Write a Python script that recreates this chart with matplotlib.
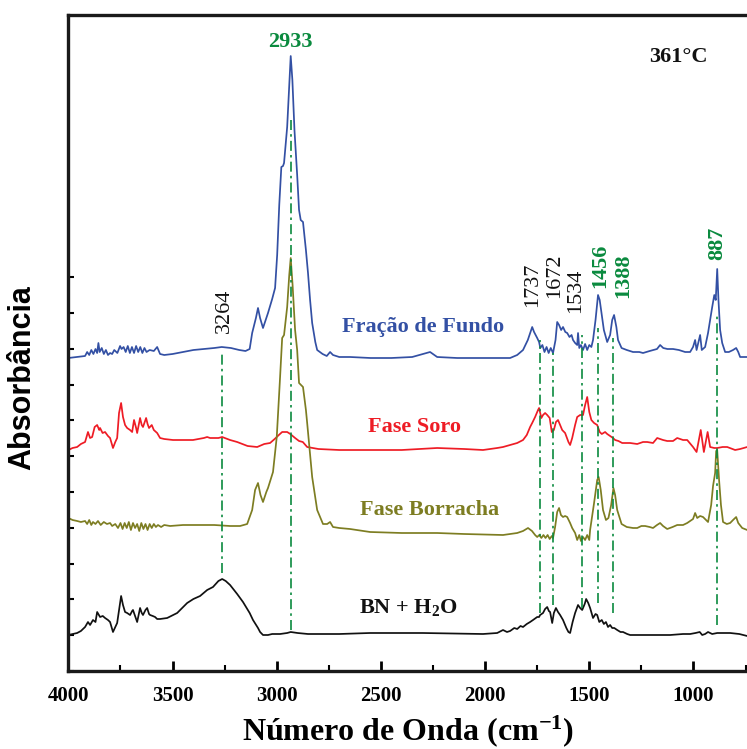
import matplotlib
matplotlib.use("Agg")
import matplotlib.pyplot as plt
import numpy as np
from matplotlib.ticker import MultipleLocator, FixedLocator, NullFormatter

plt.rcParams["mathtext.fontset"] = "custom"
plt.rcParams["mathtext.rm"] = "Liberation Serif:bold"
plt.rcParams["mathtext.bf"] = "Liberation Serif:bold"
plt.rcParams["mathtext.default"] = "rm"

SERIF = "Liberation Serif"
SANS = "Liberation Sans"

# FTIR spectra at 361 °C: (wavenumber in cm-1, absorbance in arbitrary units, stacked)
fracao_fundo = [
    (4000, 31.3), (3958, 31.4), (3920, 31.5), (3910, 31.9), (3900, 31.6), (3890, 32.1),
    (3880, 31.7), (3870, 32.2), (3862, 31.8), (3856, 32.8), (3850, 31.9), (3840, 32.3),
    (3830, 31.7), (3820, 32.1), (3810, 31.6), (3800, 31.8), (3790, 31.7), (3780, 32.1),
    (3765, 31.8), (3752, 32.5), (3745, 32.2), (3735, 32.4), (3725, 31.9), (3715, 32.5),
    (3705, 31.8), (3695, 32.4), (3685, 31.8), (3675, 32.5), (3665, 31.9), (3655, 32.4),
    (3645, 31.8), (3635, 32.3), (3625, 31.9), (3610, 32.1), (3590, 32.0), (3574, 32.4),
    (3560, 31.7), (3540, 31.6), (3500, 31.7), (3450, 31.9), (3400, 32.1), (3350, 32.2),
    (3300, 32.3), (3264, 32.4), (3220, 32.3), (3180, 32.1), (3150, 32.0), (3130, 32.2),
    (3118, 33.8), (3100, 35.3), (3090, 36.3), (3080, 35.3), (3066, 34.3), (3042, 35.8),
    (3022, 37.2), (3008, 38.3), (2998, 41.6), (2988, 46.6), (2978, 50.4), (2970, 50.5),
    (2965, 50.8), (2950, 54.4), (2940, 58.6), (2933, 61.5), (2925, 59.1), (2915, 54.1),
    (2902, 49.6), (2893, 46.1), (2885, 45.1), (2874, 44.9), (2860, 42.1), (2850, 39.8),
    (2840, 37.1), (2830, 34.8), (2815, 32.9), (2806, 32.1), (2780, 31.7), (2760, 31.5),
    (2744, 31.9), (2730, 31.6), (2700, 31.4), (2648, 31.4), (2550, 31.3), (2450, 31.3),
    (2350, 31.4), (2264, 31.9), (2230, 31.4), (2134, 31.3), (2000, 31.3), (1880, 31.3),
    (1846, 31.6), (1818, 32.1), (1795, 33.1), (1774, 34.4), (1765, 33.9), (1750, 33.3),
    (1741, 32.9), (1735, 32.3), (1725, 32.6), (1715, 31.9), (1705, 32.4), (1695, 31.8),
    (1685, 32.3), (1674, 31.8), (1662, 33.1), (1654, 34.9), (1645, 34.6), (1635, 34.1),
    (1626, 34.4), (1615, 33.9), (1606, 33.8), (1595, 33.4), (1585, 33.6), (1578, 33.1),
    (1568, 32.8), (1558, 32.6), (1554, 33.8), (1548, 32.3), (1540, 32.6), (1530, 32.1),
    (1520, 32.7), (1510, 32.1), (1500, 32.6), (1490, 32.4), (1482, 33.1), (1470, 35.1),
    (1458, 37.6), (1450, 37.1), (1440, 35.6), (1430, 34.1), (1414, 32.9), (1400, 33.6),
    (1390, 35.1), (1381, 35.6), (1370, 34.4), (1362, 33.1), (1345, 32.3), (1320, 32.1),
    (1290, 31.9), (1260, 31.9), (1242, 31.8), (1210, 32.0), (1175, 32.2), (1160, 32.6),
    (1145, 32.3), (1125, 32.2), (1098, 32.2), (1070, 32.1), (1040, 31.9), (1016, 31.9),
    (1002, 32.4), (992, 33.1), (985, 32.1), (968, 33.6), (960, 32.1), (944, 32.4),
    (930, 33.8), (910, 36.4), (900, 37.6), (893, 37.1), (886, 40.2), (880, 37.1),
    (872, 34.1), (862, 32.8), (848, 31.9), (830, 31.9), (810, 32.1), (795, 32.3),
    (785, 31.9), (776, 31.4), (742, 31.4),
]

fase_soro = [
    (4000, 22.1), (3980, 22.3), (3958, 22.4), (3940, 22.7), (3920, 22.9), (3906, 23.9),
    (3896, 23.3), (3886, 23.4), (3874, 24.4), (3862, 24.6), (3852, 24.1), (3848, 24.3),
    (3836, 23.8), (3824, 23.9), (3810, 23.5), (3800, 23.3), (3786, 22.3), (3775, 22.9),
    (3766, 23.3), (3757, 25.8), (3747, 26.8), (3738, 25.4), (3728, 24.6), (3718, 24.3),
    (3704, 24.1), (3694, 23.9), (3685, 25.1), (3675, 24.3), (3670, 23.8), (3656, 25.3),
    (3648, 24.6), (3642, 24.4), (3627, 25.3), (3620, 24.7), (3613, 24.3), (3600, 24.6),
    (3590, 24.1), (3574, 23.8), (3560, 23.3), (3540, 23.2), (3498, 23.1), (3450, 23.1),
    (3402, 23.1), (3350, 23.3), (3334, 23.4), (3320, 23.3), (3280, 23.3), (3262, 23.4),
    (3224, 23.1), (3190, 22.9), (3140, 22.5), (3094, 22.4), (3060, 22.7), (3032, 22.8),
    (3010, 23.2), (2990, 23.6), (2974, 23.9), (2950, 23.9), (2935, 23.7), (2912, 23.3),
    (2893, 23.0), (2875, 22.9), (2854, 22.4), (2800, 22.2), (2700, 22.1), (2552, 22.1),
    (2400, 22.1), (2230, 22.3), (2100, 22.2), (2010, 22.1), (1942, 22.3), (1914, 22.4),
    (1880, 22.6), (1846, 22.8), (1818, 23.1), (1800, 23.6), (1784, 24.4), (1774, 24.8),
    (1760, 25.4), (1746, 26.1), (1741, 26.3), (1730, 25.3), (1722, 25.6), (1712, 25.8),
    (1702, 25.6), (1690, 25.3), (1680, 23.9), (1670, 24.1), (1660, 24.9), (1650, 25.1),
    (1640, 24.6), (1630, 24.1), (1616, 23.8), (1600, 22.9), (1592, 22.6), (1582, 23.3),
    (1568, 24.6), (1558, 25.4), (1544, 25.6), (1530, 25.6), (1520, 26.6), (1510, 27.4),
    (1500, 25.9), (1490, 25.1), (1477, 24.8), (1462, 24.6), (1450, 23.9), (1440, 23.7),
    (1424, 23.9), (1414, 23.7), (1400, 23.5), (1386, 23.3), (1376, 23.1), (1360, 23.0),
    (1342, 22.8), (1318, 22.8), (1304, 22.8), (1270, 22.7), (1242, 22.9), (1222, 22.9),
    (1194, 22.8), (1174, 23.3), (1160, 23.2), (1146, 23.1), (1126, 23.0), (1098, 23.0),
    (1078, 23.3), (1050, 23.1), (1030, 23.1), (1002, 22.4), (985, 21.9), (965, 24.1),
    (950, 21.9), (932, 23.9), (920, 22.4), (900, 22.3), (886, 22.3), (860, 22.4),
    (838, 22.4), (800, 22.1), (776, 22.2), (742, 22.4),
]

fase_borracha = [
    (4000, 15.3), (3980, 15.1), (3958, 15.0), (3940, 14.9), (3920, 15.0), (3910, 14.7),
    (3900, 15.1), (3890, 14.6), (3882, 14.9), (3870, 14.7), (3858, 15.0), (3845, 14.6),
    (3830, 14.9), (3815, 14.7), (3800, 14.8), (3790, 14.5), (3775, 14.7), (3762, 14.3),
    (3750, 14.8), (3740, 14.2), (3730, 14.8), (3720, 14.3), (3710, 14.9), (3700, 14.1),
    (3690, 14.8), (3680, 14.3), (3670, 14.7), (3660, 14.0), (3650, 14.8), (3640, 14.2),
    (3630, 14.7), (3620, 14.1), (3610, 14.7), (3600, 14.3), (3590, 14.7), (3580, 14.4),
    (3570, 14.6), (3555, 14.4), (3540, 14.6), (3512, 14.5), (3450, 14.6), (3368, 14.6),
    (3300, 14.6), (3224, 14.5), (3176, 14.5), (3142, 14.7), (3118, 16.1), (3104, 18.1),
    (3090, 18.8), (3078, 17.6), (3066, 16.9), (3050, 17.9), (3042, 18.3), (3018, 19.9),
    (3000, 23.4), (2990, 27.1), (2984, 29.4), (2974, 33.3), (2965, 33.6), (2950, 36.4),
    (2940, 39.6), (2933, 41.3), (2924, 38.6), (2912, 34.1), (2902, 32.1), (2893, 28.8),
    (2874, 28.4), (2860, 26.1), (2854, 24.8), (2830, 19.4), (2806, 16.1), (2778, 14.7),
    (2758, 14.7), (2744, 14.9), (2730, 14.4), (2700, 14.3), (2648, 14.2), (2552, 13.9),
    (2400, 13.8), (2230, 13.8), (2100, 13.7), (1914, 13.6), (1846, 13.8), (1818, 14.0),
    (1794, 14.3), (1775, 14.0), (1760, 13.6), (1750, 13.4), (1740, 13.6), (1730, 13.3),
    (1720, 13.6), (1710, 13.3), (1700, 13.6), (1690, 13.2), (1680, 13.5), (1674, 13.3),
    (1664, 14.4), (1654, 15.9), (1645, 16.3), (1636, 15.6), (1626, 15.4), (1616, 15.5),
    (1606, 15.4), (1592, 14.8), (1582, 14.3), (1568, 13.8), (1558, 13.1), (1548, 13.6),
    (1540, 13.0), (1530, 13.4), (1520, 13.1), (1510, 13.6), (1500, 13.1), (1496, 14.1),
    (1477, 16.8), (1462, 19.1), (1455, 19.4), (1445, 18.1), (1434, 16.1), (1420, 15.1),
    (1408, 15.3), (1395, 16.6), (1384, 18.3), (1376, 17.6), (1366, 16.1), (1345, 14.7),
    (1320, 14.4), (1290, 14.3), (1270, 14.3), (1250, 14.5), (1232, 14.5), (1210, 14.4),
    (1194, 14.3), (1175, 14.6), (1160, 14.8), (1146, 14.5), (1126, 14.2), (1100, 14.4),
    (1078, 14.6), (1050, 14.6), (1030, 14.8), (1002, 15.2), (992, 15.8), (982, 15.3),
    (968, 15.5), (954, 15.4), (930, 14.9), (915, 16.6), (906, 18.5), (896, 19.8),
    (891, 22.0), (886, 22.1), (877, 19.1), (868, 16.6), (858, 14.9), (840, 14.7),
    (824, 14.8), (810, 15.1), (795, 15.4), (785, 14.8), (766, 14.3), (742, 14.1),
]

bn_h2o = [
    (4000, 3.6), (3980, 3.7), (3958, 3.8), (3940, 4.0), (3920, 4.4), (3906, 4.9),
    (3896, 4.6), (3882, 5.1), (3870, 4.9), (3862, 5.9), (3848, 5.4), (3835, 5.5),
    (3824, 5.3), (3810, 5.1), (3800, 4.9), (3786, 3.9), (3775, 4.4), (3766, 4.8),
    (3757, 6.1), (3747, 7.5), (3738, 6.6), (3728, 5.9), (3718, 5.8), (3704, 5.6),
    (3694, 6.0), (3690, 6.1), (3680, 5.5), (3670, 4.9), (3660, 5.9), (3656, 6.3),
    (3648, 5.8), (3642, 5.6), (3630, 6.1), (3622, 6.3), (3613, 5.7), (3608, 5.6),
    (3595, 5.5), (3584, 5.4), (3574, 5.2), (3560, 5.2), (3526, 5.3), (3478, 5.8),
    (3430, 6.8), (3400, 7.2), (3368, 7.5), (3334, 8.1), (3306, 8.4), (3280, 9.0),
    (3262, 9.2), (3245, 9.0), (3224, 8.6), (3190, 7.7), (3162, 6.9), (3130, 5.8),
    (3114, 5.1), (3090, 4.3), (3080, 3.9), (3066, 3.6), (3042, 3.6), (3022, 3.7),
    (2984, 3.7), (2950, 3.8), (2933, 3.9), (2900, 3.8), (2850, 3.7), (2700, 3.7),
    (2552, 3.8), (2300, 3.8), (2010, 3.7), (1942, 3.8), (1914, 4.1), (1895, 3.9),
    (1880, 4.0), (1860, 4.3), (1846, 4.2), (1830, 4.5), (1818, 4.4), (1800, 4.7),
    (1784, 4.9), (1770, 5.1), (1750, 5.4), (1741, 5.4), (1736, 5.6), (1722, 5.8),
    (1712, 6.2), (1702, 6.4), (1694, 6.0), (1688, 5.9), (1678, 4.8), (1670, 5.8),
    (1660, 6.3), (1650, 5.9), (1640, 5.6), (1626, 5.1), (1610, 4.3), (1600, 3.9),
    (1592, 3.8), (1580, 4.9), (1568, 5.8), (1554, 6.6), (1544, 6.3), (1534, 6.1),
    (1522, 6.7), (1515, 7.2), (1505, 6.8), (1496, 6.3), (1482, 5.3), (1470, 5.7),
    (1462, 5.6), (1452, 4.9), (1440, 5.1), (1430, 4.7), (1420, 4.9), (1410, 4.4),
    (1400, 4.6), (1390, 4.3), (1380, 4.3), (1366, 4.1), (1350, 3.9), (1338, 3.9),
    (1318, 3.7), (1304, 3.6), (1250, 3.6), (1112, 3.6), (1050, 3.7), (1016, 3.7),
    (990, 3.8), (970, 3.9), (958, 3.6), (944, 3.7), (930, 3.9), (910, 3.7),
    (886, 3.8), (824, 3.8), (780, 3.7), (742, 3.5),
]

series_names = ["Fração de Fundo", "Fase Soro", "Fase Borracha", "BN + H$_2$O"]
series_data = [fracao_fundo, fase_soro, fase_borracha, bn_h2o]
series_colors = ["#3350a4", "#ee1c25", "#7d7d22", "#111111"]

# Marked bands: wavenumber, label colour, vertical extent of the guide line
band_wn = [3264, 2933, 1737, 1672, 1534, 1456, 1388, 887]
band_top = [31.8, 55.3, 33.1, 31.8, 33.6, 34.3, 33.3, 35.8]
band_bottom = [9.8, 4.1, 5.8, 6.6, 6.3, 6.8, 5.8, 4.6]
band_highlight = [False, True, False, False, False, True, True, True]

GREEN = "#0a8a3e"

W, H = 747, 749
fig = plt.figure(figsize=(W / 100, H / 100), dpi=100)
ax = fig.add_axes([68.4 / W, 78 / H, (W - 68.4) / W, 656 / H])

for data, color in zip(series_data, series_colors):
    arr = np.array(data)
    ax.plot(arr[:, 0], arr[:, 1], color=color, lw=1.25, solid_joinstyle="round")

for wn, top, bot in zip(band_wn, band_top, band_bottom):
    ax.plot([wn, wn], [bot, top], color=GREEN, lw=1.2,
            linestyle=(0, (6, 2.5, 1.5, 2.5)), zorder=3)

# Band labels (rotated), anchored just above each guide line
label_pos = {3264: (3252, 33.8), 1737: (1770, 36.4), 1672: (1664, 37.3),
             1534: (1568, 35.8), 1456: (1448, 38.3), 1388: (1338, 37.3),
             887: (886, 41.1)}
for wn, hl in zip(band_wn, band_highlight):
    if wn == 2933:
        ax.text(2933, 62.9, str(wn), color=GREEN, fontsize=16, fontweight="bold",
                family=SERIF, ha="center", va="center")
        continue
    x, y = label_pos[wn]
    ax.text(x, y, str(wn), rotation=90, ha="center", va="bottom",
            color=GREEN if hl else "#111111", fontsize=16,
            fontweight="bold" if hl else "normal", family=SERIF)

# Series names
name_pos = [(2297, 34.4), (2340, 24.4), (2268, 16.1), (2370, 6.3)]
for name, color, (x, y) in zip(series_names, series_colors, name_pos):
    ax.text(x, y, name, color=color, fontsize=16, fontweight="bold",
            family=SERIF, ha="center", va="center")

ax.text(1074, 61.4, "361°C", color="#111111", fontsize=16, fontweight="bold",
        family=SERIF, ha="center", va="center")

ax.set_xlim(4000, 743)
ax.set_ylim(0, 65.6)

ax.xaxis.set_major_locator(MultipleLocator(500))
ax.xaxis.set_minor_locator(MultipleLocator(250))
ax.tick_params(axis="x", which="major", direction="in", length=7, width=2,
               pad=11, top=False)
ax.tick_params(axis="x", which="minor", direction="in", length=4, width=1.5, top=False)
for lbl in ax.get_xticklabels():
    lbl.set_fontfamily(SERIF)
    lbl.set_fontweight("bold")
    lbl.set_fontsize(15)

ax.yaxis.set_major_locator(FixedLocator(np.arange(12) * 3.58))
ax.yaxis.set_major_formatter(NullFormatter())
ax.tick_params(axis="y", which="major", direction="in", length=4, width=1.5, right=False)

for side in ["left", "bottom", "top"]:
    ax.spines[side].set_linewidth(2.4)
    ax.spines[side].set_color("#1a1a1a")
ax.spines["right"].set_visible(False)

ax.set_xlabel("Número de Onda (cm$^{-1}$)", fontsize=23, fontweight="bold",
              family=SERIF, labelpad=5)
ax.set_ylabel("Absorbância", fontsize=22, fontweight="bold", family=SANS)
ax.yaxis.set_label_coords(-0.046, 0.447)

fig.savefig("out.png", dpi=100)
